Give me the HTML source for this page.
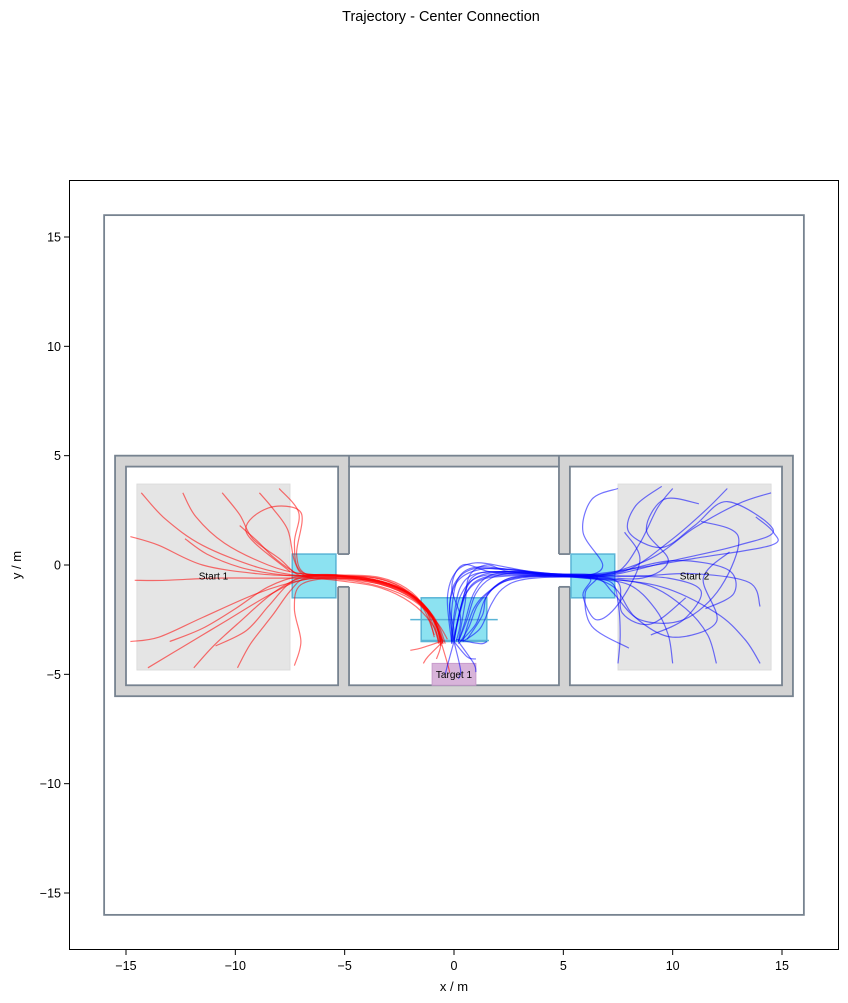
<!DOCTYPE html>
<html><head><meta charset="utf-8"><style>
body{margin:0;background:#fff;}
svg{display:block;font-family:"Liberation Sans","DejaVu Sans",sans-serif;}
</style></head><body>
<svg id="chart" width="848" height="1003" viewBox="0 0 848 1003" xmlns="http://www.w3.org/2000/svg">
<text x="441" y="21" font-size="14.5" text-anchor="middle">Trajectory - Center Connection</text>
<g id="plot"></g>
<rect x="69.5" y="180.5" width="769" height="769" fill="none" stroke="#000" stroke-width="1"/>
<g id="ticks"></g>
<text x="454" y="991" font-size="13" text-anchor="middle">x / m</text>
<text x="21" y="565" font-size="13" text-anchor="middle" transform="rotate(-90 21 565)">y / m</text>
</svg>
<script>
const xTicks=[-15,-10,-5,0,5,10,15];
const yTicks=[-15,-10,-5,0,5,10,15];
const redTraj=[
[[-14.3,3.3],[-13.2,2.1],[-11.5,0.9],[-9,-0.1],[-7,-0.5],[-5.4,-0.5],[-3.5,-0.6],[-2.1,-1.2],[-1.2,-2.2],[-0.7,-3.5]],
[[-12.4,3.3],[-11.8,2.2],[-10.5,1.0],[-8.5,0.0],[-7,-0.4],[-5.4,-0.45],[-3.5,-0.55],[-2.2,-1.05],[-1.3,-2.0],[-0.9,-3.3]],
[[-10.6,3.3],[-9.8,2.3],[-9.2,1.2],[-8,0.3],[-7,-0.5],[-5.4,-0.6],[-3.3,-0.9],[-1.8,-1.6],[-0.8,-2.6],[-0.4,-3.6]],
[[-8.9,3.3],[-8.3,2.6],[-7.6,1.6],[-7.3,0.2],[-6.8,-0.5],[-5.4,-0.7],[-3.5,-1.0],[-2.0,-1.7],[-1.0,-2.7],[-0.6,-3.7]],
[[-14.8,1.3],[-13.5,0.9],[-11.5,0.0],[-9,-0.4],[-7,-0.5],[-5.4,-0.5],[-3.6,-0.6],[-2.3,-1.1],[-1.4,-2.0],[-0.9,-3.2]],
[[-14.6,-0.7],[-13.2,-0.7],[-11,-0.6],[-9,-0.6],[-7,-0.6],[-5.4,-0.6],[-3.4,-0.75],[-2,-1.35],[-1,-2.35],[-0.6,-3.6]],
[[-14.8,-3.5],[-13.5,-3.3],[-11.5,-2.4],[-9,-1.3],[-7,-0.7],[-5.4,-0.55],[-3.5,-0.8],[-2,-1.4],[-1,-2.4],[-0.5,-3.6]],
[[-14,-4.7],[-12.5,-3.8],[-10.5,-2.6],[-8.5,-1.4],[-7,-0.7],[-5.4,-0.65],[-3.5,-0.95],[-1.9,-1.6],[-0.8,-2.6],[-0.3,-3.4]],
[[-11.9,-4.7],[-11,-3.7],[-9.8,-2.6],[-8.3,-1.3],[-7,-0.6],[-5.4,-0.5],[-3.6,-0.7],[-2.1,-1.3],[-1,-2.3],[-0.6,-3.5]],
[[-9.9,-4.7],[-9.3,-3.6],[-8.3,-2.3],[-7.5,-1.2],[-6.8,-0.6],[-5.4,-0.55],[-3.4,-0.8],[-1.9,-1.4],[-0.9,-2.4],[-0.5,-3.5]],
[[-13,-3.5],[-11.5,-2.9],[-10,-2.0],[-8.5,-1.0],[-7,-0.5],[-5.4,-0.5],[-3.5,-0.75],[-2,-1.35],[-1.05,-2.3],[-0.7,-3.6]],
[[-12.3,1.2],[-11.3,0.5],[-9.8,-0.1],[-8.3,-0.4],[-7,-0.5],[-5.4,-0.45],[-3.5,-0.7],[-2,-1.3],[-1,-2.3],[-0.6,-3.5]],
[[-9.8,1.8],[-9,1.1],[-8.3,0.4],[-7.5,-0.2],[-7,-0.4],[-5.4,-0.5],[-3.5,-0.8],[-2,-1.4],[-1,-2.4],[-0.5,-3.5]],
[[-7.5,-0.3],[-9.5,1.5],[-8.5,2.6],[-7,2.4],[-7.2,0.5],[-6.8,-0.4],[-5.4,-0.5],[-3.5,-0.75],[-2,-1.35],[-1,-2.35],[-0.6,-3.5]],
[[-7.3,-4.6],[-7,-3.5],[-7.3,-2],[-7,-0.9],[-5.4,-0.6],[-3.5,-0.85],[-2,-1.45],[-1,-2.45],[-0.5,-3.6]],
[[-10.9,-3.7],[-9.5,-3.0],[-8.5,-1.9],[-7.6,-0.9],[-6.8,-0.5],[-5.4,-0.5],[-3.5,-0.7],[-2,-1.3],[-1,-2.3],[-0.55,-3.45]],
[[-8,3.5],[-7.1,2.4],[-7.3,1.0],[-7,-0.3],[-5.4,-0.45],[-3.5,-0.7],[-2,-1.3],[-1,-2.3],[-0.6,-3.5],[-0.8,-4.3]],
[[-0.6,-3.5],[-1.5,-3.8],[-2,-3.9]],
[[-0.6,-3.5],[-0.3,-4.5],[-0.2,-4.9]],
[[-0.5,-3.5],[-1.2,-4.2],[-1.4,-4.5]]
];
const blueTraj=[
[[7.5,3.5],[6.3,3],[5.9,1.5],[6.8,0],[6,-0.5],[4.5,-0.45],[2.5,-0.2],[1.0,-0.1],[0.2,-0.6],[-0.1,-2.0],[-0.1,-3.5]],
[[10,3.5],[9.3,2.6],[8.5,1],[7.5,-0.3],[6,-0.45],[4.5,-0.4],[2.6,-0.3],[1.3,-0.45],[0.6,-1],[0.2,-2.4],[0,-3.5]],
[[12.5,3.5],[11.5,2.5],[10,1.2],[8,-0.2],[6,-0.5],[4.5,-0.5],[3,-0.6],[2,-0.9],[1.4,-1.6],[1.0,-2.7],[0.2,-3.6]],
[[14.5,3.3],[13,2.8],[11,1.7],[9,0.3],[6.5,-0.5],[4.5,-0.45],[2.4,-0.4],[1,-0.6],[0.3,-1.4],[0,-2.6],[-0.1,-3.5]],
[[7.5,-4.5],[7.6,-3.2],[7.5,-1.7],[7.2,-0.8],[6,-0.6],[4.5,-0.55],[3,-0.7],[2.2,-1.1],[1.7,-1.8],[1.2,-2.9],[0.4,-3.5]],
[[10,-4.5],[9.8,-3.2],[9.2,-2],[8,-0.9],[6,-0.6],[4.5,-0.5],[2.6,-0.45],[1.3,-0.6],[0.6,-1.2],[0.2,-2.5],[0,-3.5]],
[[12,-4.5],[11.6,-3.2],[10.6,-2],[8.8,-0.9],[6,-0.55],[4.5,-0.5],[2.4,-0.1],[1.0,0.1],[0.1,-0.3],[-0.3,-1.5],[-0.1,-3.6]],
[[14,-4.5],[13.3,-3.4],[12,-2.2],[9.5,-1],[6.5,-0.6],[4.5,-0.5],[2.5,-0.5],[1.2,-0.7],[0.5,-1.4],[0.15,-2.6],[0,-3.5]],
[[11.5,-2],[12.8,-1.3],[12.5,-0.2],[10,0.2],[7,-0.4],[4.5,-0.4],[2.5,-0.3],[1,-0.4],[0.3,-1],[0,-2.3],[-0.1,-3.5]],
[[14,-1.9],[13.5,-0.8],[11,-0.4],[8.5,-0.5],[6,-0.5],[4.5,-0.45],[2.8,-0.6],[1.9,-1.0],[1.1,-1.8],[0.7,-2.8],[0.3,-3.5]],
[[9.5,3.6],[8.3,2.7],[8,1.5],[9.5,0.8],[11,1.8],[12.5,2.9],[14.6,1.6],[13,0.9],[10,0.2],[7,-0.5],[5,-0.5],[3,-0.3],[1.6,-0.5],[0.9,-1.3],[0.5,-2.6],[0.2,-3.5]],
[[11.3,2.0],[13,1.3],[12.2,-1.0],[10.5,-2.5],[8.5,-2.5],[7.3,-1.3],[6.5,-0.6],[4.5,-0.5],[2,-0.3],[0.8,-0.6],[0.3,-2.0],[0,-3.4]],
[[8,-3.8],[6.3,-2.8],[6,-1.3],[6.5,-0.5],[4.5,-0.4],[2.6,-0.2],[1.2,-0.2],[0.2,-0.7],[-0.2,-1.8],[0,-3],[-0.1,-3.6]],
[[10.6,-1.5],[9,-2.7],[7.7,-2.2],[7.5,-0.8],[6,-0.5],[4.5,-0.45],[2.8,-0.4],[1.6,-0.3],[0.4,0],[-0.1,-1],[0.3,-2.4],[0.1,-3.5]],
[[12.6,0.6],[11.4,-0.6],[12,-2.6],[10,-3.3],[8.3,-2.4],[7.3,-1],[5.8,-0.5],[4.5,-0.45],[2.5,-0.3],[1.5,0.0],[0.7,-0.5],[0.5,-1.8],[0.2,-3.5]],
[[11.2,2.8],[9.6,3.0],[8.8,1.6],[9.8,0.2],[8.6,-0.6],[6.2,-0.5],[4.5,-0.45],[2.8,-0.35],[1.7,-0.6],[1,-1.3],[0.6,-2.5],[0.2,-3.5]],
[[7.8,1.5],[8.5,0.2],[7.5,-1.8],[6.5,-2.5],[5.9,-1.4],[6.2,-0.6],[4.5,-0.55],[3.2,-0.5],[2.3,-0.7],[1.5,-1.4],[1.3,-2.3],[0.6,-3.4]],
[[13.8,2.2],[14.6,1.5],[14.5,0.9],[11,0.3],[8,-0.2],[6,-0.45],[4.5,-0.4],[2.2,-0.2],[0.8,-0.2],[0.0,-0.9],[-0.2,-2.2],[0,-3.5]],
[[9,-3.2],[10.5,-2.5],[11.3,-1.2],[9.8,-0.6],[7.2,-0.5],[5.5,-0.5],[4.5,-0.5],[2.6,-0.6],[1.6,-1.2],[0.9,-2.0],[0.4,-3.5]],
[[0,-3.5],[0.6,-4.2],[1,-4.3]],
[[0,-3.5],[-0.3,-4.6],[-0.4,-5.0]],
[[0.1,-3.4],[1.2,-3.6],[1.5,-3.5]],
[[0,-3.5],[0.3,-4.8],[0.2,-5.2]],
[[0.2,-3.5],[0.9,-4.5],[1.0,-4.9]]
];
const NS="http://www.w3.org/2000/svg";
const X0=454,Y0=565,K=21.867;
function sx(v){return X0+v*K;}
function sy(v){return Y0-v*K;}
const plot=document.getElementById('plot');
const ticks=document.getElementById('ticks');
function mk(tag,attrs,parent){const e=document.createElementNS(NS,tag);for(const k in attrs)e.setAttribute(k,attrs[k]);(parent||plot).appendChild(e);return e;}
function rectD(x1,y1,x2,y2,fill,stroke,sw,name){
  const e=mk('rect',{x:sx(Math.min(x1,x2)),y:sy(Math.max(y1,y2)),width:Math.abs(x2-x1)*K,height:Math.abs(y2-y1)*K,fill:fill,stroke:stroke,'stroke-width':sw});
  
  
  return e;}
function lineD(x1,y1,x2,y2,stroke,sw,name){
  const e=mk('line',{x1:sx(x1),y1:sy(y1),x2:sx(x2),y2:sy(y2),stroke:stroke,'stroke-width':sw});
  
  
  return e;}
const WC="#778390";
rectD(-16,-16,16,16,"none",WC,1.8,'outer-boundary');
rectD(-15.5,-6,15.5,5,"#d3d3d3",WC,1.8,'building-walls');
rectD(-15,-5.5,-5.3,4.5,"#fff",WC,1.8,'left-room');
rectD(-4.8,-5.5,4.8,4.5,"#fff",WC,1.8,'center-room');
rectD(5.3,-5.5,15,4.5,"#fff",WC,1.8,'right-room');
rectD(-5.4,-1.0,-4.7,0.5,"#fff","none",0,'left-door');
lineD(-5.3,0.5,-4.8,0.5,WC,1.8,'left-door-top');
lineD(-5.3,-1.0,-4.8,-1.0,WC,1.8,'left-door-bottom');
rectD(4.7,-1.0,5.4,0.5,"#fff","none",0,'right-door');
lineD(4.8,0.5,5.3,0.5,WC,1.8,'right-door-top');
lineD(4.8,-1.0,5.3,-1.0,WC,1.8,'right-door-bottom');
lineD(-4.8,5,-4.8,4.5,WC,1.8,'wall-joint-left');
lineD(4.8,5,4.8,4.5,WC,1.8,'wall-joint-right');
rectD(-14.5,-4.8,-7.5,3.7,"#e5e5e5","#dcdcdc",1,'start-1-area');
rectD(7.5,-4.8,14.5,3.7,"#e5e5e5","#dcdcdc",1,'start-2-area');
rectD(-1,-5.5,1,-4.5,"#d8b4da","#c89ccc",1,'target-1-area');
function smooth(pts){
  const p=pts.map(q=>[sx(q[0]),sy(q[1])]);
  let d="M"+p[0][0].toFixed(1)+","+p[0][1].toFixed(1);
  for(let i=0;i<p.length-1;i++){
    const a=p[Math.max(i-1,0)],b=p[i],c=p[i+1],e=p[Math.min(i+2,p.length-1)];
    const c1=[b[0]+(c[0]-a[0])/6,b[1]+(c[1]-a[1])/6],c2=[c[0]-(e[0]-b[0])/6,c[1]-(e[1]-b[1])/6];
    d+=" C"+c1.map(v=>v.toFixed(1))+" "+c2.map(v=>v.toFixed(1))+" "+c[0].toFixed(1)+","+c[1].toFixed(1);
  }
  return d;}
const CY="rgba(0,190,225,0.45)",CS="#5ab4d6";
rectD(-7.4,-1.5,-5.4,0.5,CY,CS,1.5,'left-door-zone');
rectD(5.35,-1.5,7.35,0.5,CY,CS,1.5,'right-door-zone');
rectD(-1.5,-3.5,1.5,-1.5,CY,CS,1.5,'center-zone');
lineD(-2,-2.5,2,-2.5,CS,1.5,'center-zone-line');
lineD(-1.5,-3.45,1.6,-3.45,CS,1.5,'center-zone-bottom-line');
redTraj.forEach(t=>{
  const e=mk('path',{d:smooth(t),fill:'none',stroke:'#ff0000','stroke-opacity':0.55,'stroke-width':1.2});
  
  
});
blueTraj.forEach(t=>{
  const e=mk('path',{d:smooth(t),fill:'none',stroke:'#0000ff','stroke-opacity':0.55,'stroke-width':1.2});
  
  
});
function label(x,y,t,name){const e=mk('text',{x:sx(x),y:sy(y)+3.5,'font-size':10,'text-anchor':'middle'});e.textContent=t;
  
  }
label(-11,-0.5,'Start 1','start-1-label');
label(11,-0.5,'Start 2','start-2-label');
label(0,-5,'Target 1','target-1-label');
const fmt=v=>v<0?"\u2212"+(-v):String(v);
xTicks.forEach(v=>{
  const l=mk('line',{x1:sx(v),x2:sx(v),y1:950,y2:955,stroke:'#000','stroke-width':1},ticks);
  
  
  const t=mk('text',{x:sx(v),y:970,'font-size':12.5,'text-anchor':'middle'},ticks);t.textContent=fmt(v);
  
  
});
yTicks.forEach(v=>{
  const l=mk('line',{x1:64,x2:69,y1:sy(v),y2:sy(v),stroke:'#000','stroke-width':1},ticks);
  
  
  const t=mk('text',{x:61,y:sy(v)+4.5,'font-size':12.5,'text-anchor':'end'},ticks);t.textContent=fmt(v);
  
  
});
</script>
</body></html>
